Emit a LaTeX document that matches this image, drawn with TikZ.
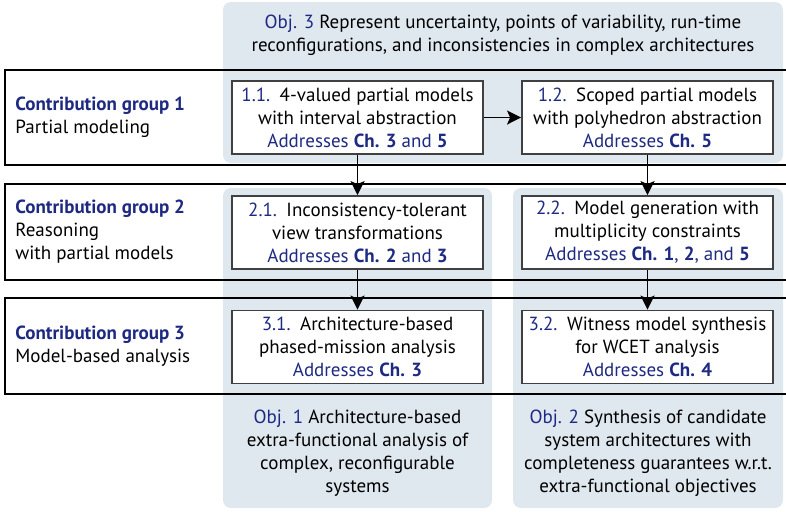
\documentclass[tikz,border=0pt]{standalone}
\usepackage{fontspec}
\setmainfont{PT Sans}
\usetikzlibrary{positioning,calc}
\usetikzlibrary{arrows.meta}
\definecolor{objblue}{RGB}{30,42,130}
\definecolor{objshade}{RGB}{223,231,239}
\newcommand{\lbl}[1]{{\color{objblue}#1}}
\newcommand{\addr}[1]{{\color{objblue}Addresses #1}}

\begin{document}
\begin{tikzpicture}[>={Stealth[length=7pt,width=7pt,inset=1.5pt]}, x=0.5pt, y=-0.5pt,
  font=\fontsize{9.5}{11.5}\selectfont,
  objective/.style={fill=objshade, rounded corners=4pt},
  group/.style={draw, line width=0.9pt},
  contrib/.style={draw=black!75, fill=white, line width=0.9pt, minimum width=125.5pt, minimum height=36.5pt, align=center, inner sep=0pt},
  grouptext/.style={anchor=west, align=left, inner sep=0pt},
  objtext/.style={align=center, inner sep=0pt},
  conn/.style={->, line width=0.9pt}]
\useasboundingbox (0,0) rectangle (786,511);
% objectives in the background
\fill[objective] (223,2) rectangle (783,163);
\fill[objective] (223,188) rectangle (492,508);
\fill[objective] (513,188) rectangle (783,508);
\node[objtext] (obj3) at (503,35) {\lbl{Obj. 3} Represent uncertainty, points of variability, run-time\\ reconfigurations, and inconsistencies in complex architectures};
\node[objtext] (obj1) at (357.5,453) {\lbl{Obj. 1} Architecture-based\\ extra-functional analysis of\\ complex, reconfigurable\\ systems};
\node[objtext] (obj2) at (648,453) {\lbl{Obj. 2} Synthesis of candidate\\ system architectures with\\ completeness guarantees w.r.t.\\ extra-functional objectives};
% contribution groups
\draw[group] (5,70) rectangle (800,165);
\draw[group] (5,184) rectangle (800,280);
\draw[group] (5,298) rectangle (800,394);
\node[grouptext] (g1) at (15,117.5) {\lbl{\bfseries Contribution group 1}\\ Partial modeling};
\node[grouptext] (g2) at (15,232) {\lbl{\bfseries Contribution group 2}\\ Reasoning\\ with partial models};
\node[grouptext] (g3) at (15,346.5) {\lbl{\bfseries Contribution group 3}\\ Model-based analysis};
% contributions
\node[contrib] (c11) at (357.5,117.5) {\lbl{1.1.}\enspace 4-valued partial models\\ with interval abstraction\\ \addr{\textbf{Ch. 3} and \textbf{5}}};
\node[contrib] (c12) at (647.5,117.5) {\lbl{1.2.}\enspace Scoped partial models\\ with polyhedron abstraction\\ \addr{\textbf{Ch. 5}}};
\node[contrib] (c21) at (357.5,232.5) {\lbl{2.1.}\enspace Inconsistency-tolerant\\ view transformations\\ \addr{\textbf{Ch. 2} and \textbf{3}}};
\node[contrib] (c22) at (647.5,232.5) {\lbl{2.2.}\enspace Model generation with\\ multiplicity constraints\\ \addr{\textbf{Ch. 1}, \textbf{2}, and \textbf{5}}};
\node[contrib] (c31) at (357.5,347) {\lbl{3.1.}\enspace Architecture-based\\ phased-mission analysis\\ \addr{\textbf{Ch. 3}}};
\node[contrib] (c32) at (647.5,347) {\lbl{3.2.}\enspace Witness model synthesis\\ for WCET analysis\\ \addr{\textbf{Ch. 4}}};
% dependencies
\draw[conn] (c11) -- (c12);
\draw[conn] (c11) -- (c21);
\draw[conn] (c21) -- (c31);
\draw[conn] (c12) -- (c22);
\draw[conn] (c22) -- (c32);
\end{tikzpicture}
\end{document}
